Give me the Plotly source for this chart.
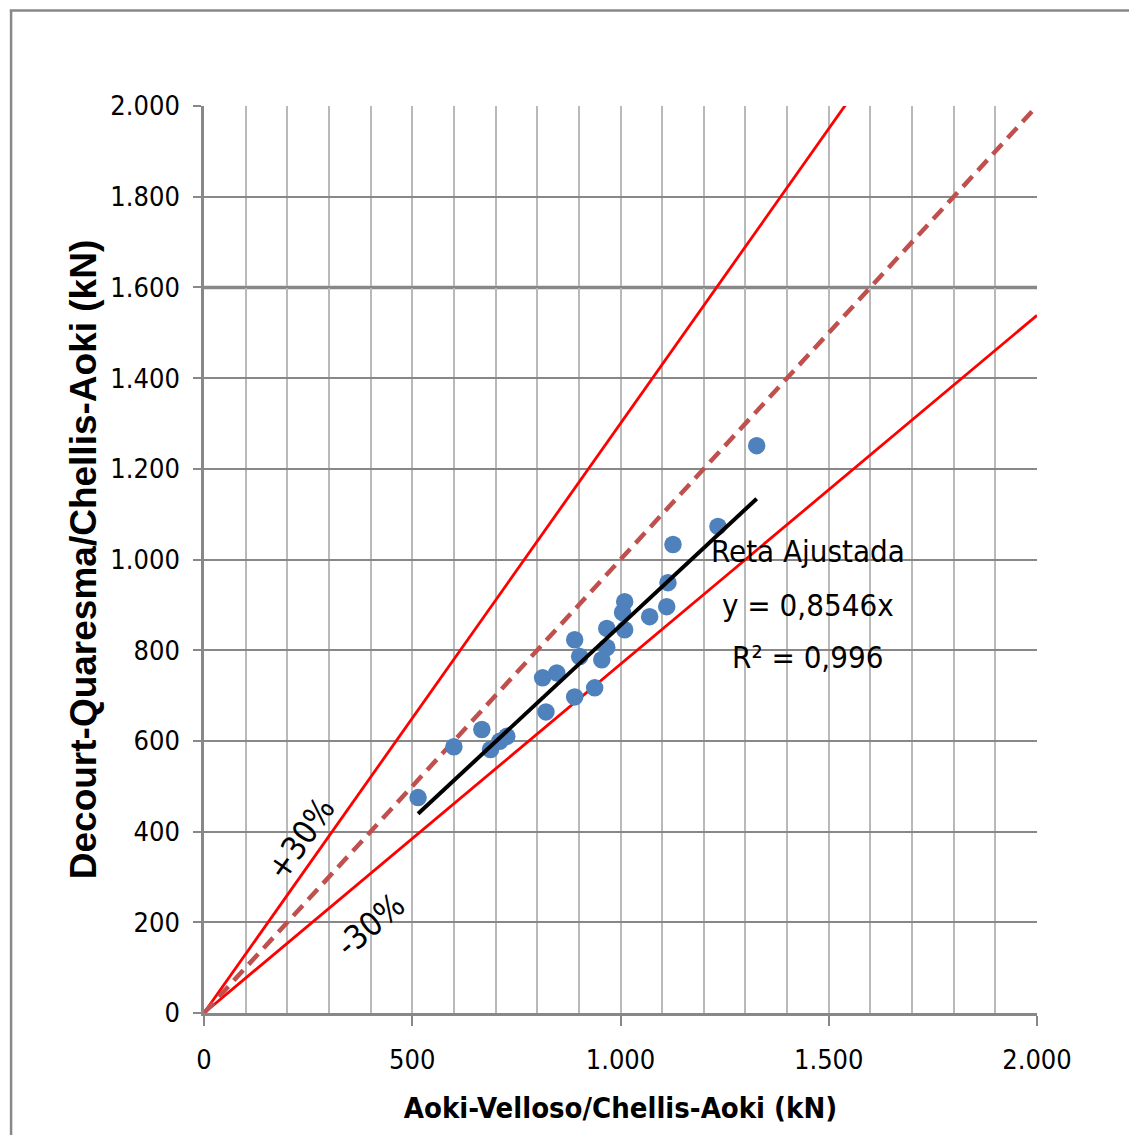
import plotly.graph_objects as go

# Capacity estimates (kN) from the two methods, one pair per pile
aoki_velloso = [514, 600, 667, 688, 710, 727, 813, 847, 821, 890, 902, 890, 938,
                955, 967, 967, 1010, 1005, 1010, 1070, 1111, 1114, 1126, 1234, 1327]
decourt_quaresma = [475, 587, 625, 581, 599, 610, 739, 750, 664, 823, 786, 697, 717,
                    779, 848, 806, 907, 883, 845, 874, 896, 949, 1033, 1073, 1251]

# Fitted line through the origin
slope = 0.8546
r_squared = "0,996"
fit_x = [min(aoki_velloso), max(aoki_velloso)]
fit_y = [slope * v for v in fit_x]

# Reference lines: identity and +/-30 %
ref_x = [0, 2000]
upper_factor = 1.3
lower_factor = 1 / 1.3

tick_vals_x = [0, 500, 1000, 1500, 2000]
tick_text_x = ["0", "500", "1.000", "1.500", "2.000"]
tick_vals_y = [0, 200, 400, 600, 800, 1000, 1200, 1400, 1600, 1800, 2000]
tick_text_y = ["0", "200", "400", "600", "800", "1.000", "1.200", "1.400",
               "1.600", "1.800", "2.000"]

NARROW = "DejaVu Sans Condensed, Liberation Sans Narrow, sans-serif"
WIDE_BOLD = "Liberation Sans, Arial, sans-serif"
GRID_DARK = "#888888"
GRID_LIGHT = "#b9b9b9"

fig = go.Figure()

fig.add_trace(go.Scatter(
    x=ref_x, y=[v * upper_factor for v in ref_x], mode="lines",
    line=dict(color="#ff0000", width=2.8), hoverinfo="skip", showlegend=False))
fig.add_trace(go.Scatter(
    x=ref_x, y=[v * lower_factor for v in ref_x], mode="lines",
    line=dict(color="#ff0000", width=2.8), hoverinfo="skip", showlegend=False))
fig.add_trace(go.Scatter(
    x=ref_x, y=ref_x, mode="lines",
    line=dict(color="#c0504d", width=4.5, dash="14px,8px"),
    hoverinfo="skip", showlegend=False))
fig.add_trace(go.Scatter(
    x=aoki_velloso, y=decourt_quaresma, mode="markers",
    marker=dict(color="#4f81bd", size=17.5), showlegend=False))
fig.add_trace(go.Scatter(
    x=fit_x, y=fit_y, mode="lines",
    line=dict(color="#000000", width=4), showlegend=False))

fig.add_annotation(x=1449, y=1019, text="Reta Ajustada", showarrow=False,
                   font=dict(family=NARROW, size=31, color="#000000"))
fig.add_annotation(x=1451, y=900, text=f"y = {str(slope).replace('.', ',')}x",
                   showarrow=False, font=dict(family=NARROW, size=31, color="#000000"))
fig.add_annotation(x=1450, y=786, text=f"R² = {r_squared}", showarrow=False,
                   font=dict(family=NARROW, size=31, color="#000000"))
fig.add_annotation(x=232, y=385, text="+30%", showarrow=False, textangle=-55,
                   font=dict(family=NARROW, size=33, color="#000000"))
fig.add_annotation(x=400, y=195, text="-30%", showarrow=False, textangle=-40,
                   font=dict(family=NARROW, size=33, color="#000000"))

# Heavier line at 1.600 and the outer chart frame
fig.add_shape(type="line", xref="x", yref="y", x0=0, x1=2000, y0=1600, y1=1600,
              line=dict(color=GRID_DARK, width=3.5), layer="below")
fig.add_shape(type="line", xref="paper", yref="paper", x0=-0.2316, x1=-0.2316,
              y0=-0.2, y1=1.1058, line=dict(color=GRID_DARK, width=2.5))
fig.add_shape(type="line", xref="paper", yref="paper", x0=-0.2331, x1=1.2,
              y0=1.1052, y1=1.1052, line=dict(color=GRID_DARK, width=2.5))

fig.update_layout(
    width=1129, height=1135,
    margin=dict(l=204, r=91.5, t=106, b=121.5),
    paper_bgcolor="#ffffff", plot_bgcolor="#ffffff",
    font=dict(family=NARROW, color="#000000"),
    xaxis=dict(
        range=[0, 2000], tickvals=tick_vals_x, ticktext=tick_text_x,
        ticks="outside", ticklen=10, tickwidth=2, tickcolor=GRID_DARK,
        ticklabelstandoff=11,
        tickfont=dict(family=NARROW, size=27, color="#000000"),
        showgrid=True, gridcolor=GRID_LIGHT, gridwidth=1.5,
        minor=dict(dtick=100, tick0=0, showgrid=True, gridcolor=GRID_LIGHT,
                   gridwidth=1.5, ticks=""),
        showline=True, linecolor=GRID_DARK, linewidth=2.5, zeroline=False,
        title=dict(text="<b>Aoki-Velloso/Chellis-Aoki (kN)</b>", standoff=24,
                   font=dict(family=NARROW, size=29, color="#000000")),
    ),
    yaxis=dict(
        range=[0, 2000], tickvals=tick_vals_y, ticktext=tick_text_y,
        ticks="outside", ticklen=8, tickwidth=2, tickcolor=GRID_DARK,
        ticklabelstandoff=8,
        tickfont=dict(family=NARROW, size=27, color="#000000"),
        showgrid=True, gridcolor=GRID_DARK, gridwidth=2,
        showline=True, linecolor=GRID_DARK, linewidth=2.5, zeroline=False,
        title=dict(text="<b>Decourt-Quaresma/Chellis-Aoki (kN)</b>", standoff=3,
                   font=dict(family=WIDE_BOLD, size=37, color="#000000")),
    ),
)

fig.write_html("out.html")
